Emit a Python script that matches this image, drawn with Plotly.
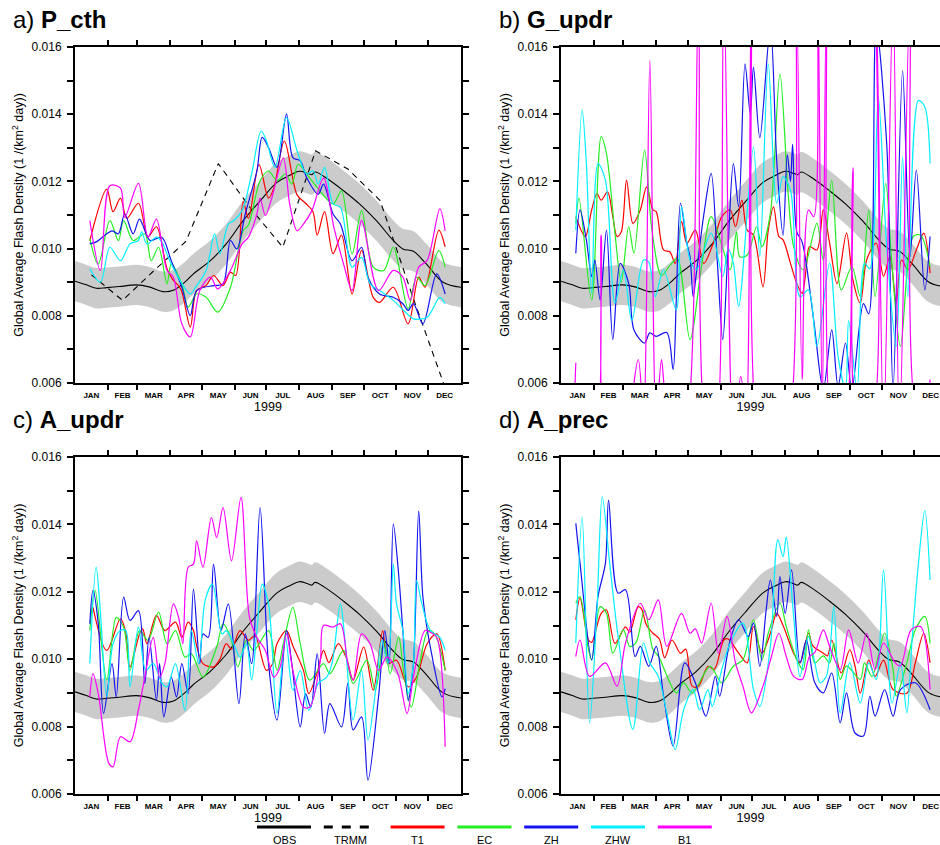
import numpy as np
import plotly.graph_objects as go

# ---------------- data (values in units of 1e-3 flashes km^-2 day^-1) ----------------
SCALE = 1e-3
MONTHS = ["JAN", "FEB", "MAR", "APR", "MAY", "JUN", "JUL", "AUG", "SEP", "OCT", "NOV", "DEC"]
MONTH_START = [0, 31, 59, 90, 120, 151, 181, 212, 243, 273, 304, 334, 365]
MONTH_MID = [15.5, 45, 74.5, 105, 135.5, 166, 196.5, 227.5, 258, 288.5, 319, 349.5]
YEAR = "1999"
Y_TICKS = [0.006, 0.008, 0.010, 0.012, 0.014, 0.016]
Y_TICK_TEXT = ["0.006", "0.008", "0.010", "0.012", "0.014", "0.016"]
MODELS = ["T1", "EC", "ZH", "ZHW", "B1"]
COLORS = {"T1": "#ff0000", "EC": "#22ee22", "ZH": "#1414f0", "ZHW": "#00f0ff", "B1": "#ff00ff"}

OBS = [(0, 9.03), (10, 8.93), (20, 8.82), (30, 8.84), (42, 8.87), (58, 8.92), (70, 8.86), (83, 8.72),
       (93, 8.76), (103, 8.98), (112, 9.25), (128, 9.64), (143, 10.14), (159, 10.83), (175, 11.42),
       (191, 11.97), (203, 12.18), (212, 12.3), (220, 12.24), (224, 12.2), (227, 12.28), (240, 12.05),
       (254, 11.72), (269, 11.33), (285, 10.83), (301, 10.24), (310, 9.99), (320, 9.92), (332, 9.55),
       (348, 9.0), (365, 8.85)]
OBS_UNCERT = 0.6
TRMM = [9.22, 8.46, 9.34, 10.22, 12.53, 11.2, 10.04, 12.91, 12.37, 11.43, 8.6, 5.9]

# ---- panel a) P_cth ----
A_T1 = [(14, 10.24), (30, 11.77), (36, 11.1), (43, 11.5), (49, 10.9), (60, 11.35), (69, 10.35), (77, 10.65),
        (87, 9.4), (92, 9.1), (100, 8.8), (109, 7.66), (115, 8.75), (124, 8.9), (131, 9.2), (140, 8.9),
        (147, 9.3), (152, 9.2), (159, 11.4), (164, 10.9), (174, 12.5), (183, 11.5), (188, 11.8), (198, 13.2),
        (210, 11.6), (218, 11.35), (225, 11.1), (229, 10.4), (236, 11.1), (244, 9.85), (252, 10.4),
        (262, 8.65), (271, 9.95), (282, 8.55), (288, 8.4), (301, 8.85), (315, 7.76), (325, 9.15),
        (331, 8.85), (344, 10.55), (350, 10.05)]
A_EC = [(14, 10.29), (22, 9.54), (33, 10.83), (41, 10.24), (46, 10.83), (55, 10.24), (66, 10.44), (72, 9.64),
        (79, 10.04), (87, 8.95), (91, 9.54), (101, 8.95), (107, 8.26), (115, 8.65), (124, 8.55), (135, 8.11),
        (147, 8.85), (159, 10.53), (164, 10.7), (175, 12.02), (183, 12.31), (191, 12.02), (199, 12.22),
        (205, 11.92), (211, 12.51), (219, 12.22), (229, 11.82), (244, 11.33), (252, 11.72), (262, 9.84),
        (271, 11.13), (282, 9.45), (292, 9.35), (301, 10.04), (315, 8.21), (323, 9.15), (331, 8.9),
        (344, 9.94), (350, 9.45)]
A_ZH = [(14, 10.14), (20, 10.2), (35, 10.53), (41, 10.44), (47, 11.03), (55, 10.44), (61, 10.88), (71, 10.24),
        (82, 10.34), (91, 9.64), (101, 8.85), (109, 8.01), (115, 8.75), (131, 8.9), (140, 8.95), (147, 10.24),
        (153, 9.99), (161, 11.03), (172, 12.31), (177, 13.31), (183, 13.01), (191, 12.42), (200, 14.0),
        (206, 12.71), (213, 12.61), (219, 12.12), (230, 11.62), (235, 11.92), (244, 11.03), (251, 10.73),
        (262, 9.64), (271, 10.04), (277, 9.15), (288, 8.65), (301, 8.55), (310, 8.36), (315, 8.16),
        (320, 8.36), (329, 7.76), (342, 9.25), (350, 8.65)]
A_ZHW = [(14, 9.4), (24, 9.0), (33, 10.04), (43, 9.64), (52, 10.14), (60, 10.24), (63, 10.5), (68, 10.14),
         (77, 10.34), (82, 10.2), (91, 9.54), (109, 8.65), (114, 8.85), (124, 9.35), (132, 10.44), (137, 9.84),
         (145, 10.73), (150, 10.83), (158, 11.13), (167, 12.22), (176, 13.5), (181, 13.21), (189, 12.42),
         (200, 13.9), (210, 12.91), (219, 12.22), (225, 12.31), (230, 11.92), (236, 12.42), (244, 11.33),
         (251, 11.23), (262, 9.45), (271, 9.74), (279, 8.95), (288, 8.75), (301, 8.46), (314, 8.06),
         (320, 7.91), (333, 7.96), (345, 8.55), (350, 8.36)]
A_B1 = [(14, 10.83), (24, 9.35), (33, 11.87), (43, 11.8), (47, 10.93), (60, 11.94), (69, 10.34), (77, 10.88),
        (87, 9.35), (93, 9.15), (101, 7.76), (109, 7.37), (118, 8.75), (128, 9.15), (135, 8.8), (147, 9.35),
        (158, 10.14), (164, 10.34), (172, 11.03), (175, 11.5), (180, 10.98), (186, 11.5), (197, 12.7),
        (203, 11.33), (210, 10.53), (216, 10.73), (224, 11.13), (235, 12.1), (245, 10.6), (254, 9.54),
        (262, 8.75), (271, 10.83), (287, 8.75), (301, 9.35), (310, 9.15), (317, 8.46), (325, 9.45),
        (333, 9.65), (345, 11.18), (350, 10.53)]

# ---- panel b) G_updr ----
B_T1 = [(14, 10.95), (23, 10.36), (29, 11.15), (34, 11.64), (38, 11.44), (44, 11.69), (49, 10.95), (53, 10.36),
        (57, 10.5), (62, 12.04), (68, 10.75), (75, 11.15), (81, 11.84), (87, 11.15), (90, 11.1), (97, 9.96),
        (103, 9.9), (108, 9.56), (114, 10.8), (119, 10.16), (127, 10.55), (135, 9.56), (144, 10.16),
        (152, 10.95), (160, 11.15), (165, 10.65), (171, 11.44), (176, 10.55), (182, 10.4), (191, 8.86),
        (196, 10.55), (201, 11.24), (206, 10.36), (210, 10.26), (217, 9.56), (223, 8.96), (228, 8.67),
        (232, 9.46), (235, 10.06), (242, 9.96), (248, 11.15), (254, 10.16), (261, 8.96), (270, 10.46),
        (276, 9.07), (283, 8.38), (289, 9.66), (298, 10.16), (305, 9.17), (311, 9.76), (317, 8.38),
        (322, 9.66), (328, 9.37), (336, 9.96), (343, 10.46), (349, 9.27)]
B_EC = [(14, 10.75), (17, 11.5), (29, 8.47), (38, 13.33), (43, 12.83), (51, 10.46), (57, 9.0), (64, 10.65),
        (69, 9.86), (79, 12.93), (86, 10.55), (95, 9.2), (103, 9.5), (110, 9.7), (122, 7.29), (133, 9.5),
        (142, 10.95), (153, 10.0), (160, 9.37), (166, 10.5), (169, 9.76), (176, 9.8), (185, 10.65),
        (190, 10.06), (198, 11.05), (207, 15.2), (215, 11.54), (220, 10.06), (229, 9.37), (242, 10.75),
        (248, 9.66), (256, 12.04), (265, 8.77), (275, 9.46), (283, 8.57), (291, 11.15), (297, 8.57),
        (307, 11.94), (313, 9.5), (321, 7.09), (333, 10.36), (340, 10.4), (349, 9.46)]
B_ZH = [(14, 9.86), (18, 11.15), (24, 10.26), (29, 9.17), (32, 9.66), (37, 8.47), (43, 10.55), (49, 7.29),
        (56, 9.56), (64, 8.97), (69, 7.58), (79, 7.19), (84, 7.49), (90, 7.39), (100, 7.5), (106, 6.4),
        (109, 8.47), (113, 11.35), (119, 10.16), (122, 9.76), (125, 8.57), (128, 9.27), (135, 11.0),
        (142, 12.24), (148, 9.5), (153, 7.29), (158, 10.06), (163, 12.53), (168, 11.25), (174, 15.5),
        (179, 14.0), (182, 15.4), (188, 13.3), (198, 16.6), (204, 12.6), (210, 10.4), (214, 12.8),
        (217, 12.0), (219, 13.1), (223, 10.5), (228, 10.2), (239, 7.86), (248, 5.8), (256, 7.58),
        (262, 5.9), (269, 7.19), (275, 5.8), (286, 8.36), (291, 8.06), (298, 16.6), (308, 13.12),
        (314, 5.8), (323, 15.3), (330, 9.76), (336, 12.34), (344, 8.77), (349, 10.36)]
B_ZHW = [(14, 10.55), (20, 14.12), (24, 12.53), (29, 8.67), (35, 12.53), (42, 12.04), (51, 8.38), (59, 9.37),
         (67, 7.86), (78, 9.66), (83, 9.6), (89, 8.57), (97, 9.37), (109, 8.18), (114, 11.25), (122, 9.66),
         (128, 9.37), (142, 10.46), (153, 9.17), (158, 10.0), (163, 9.56), (168, 8.28), (182, 13.02),
         (188, 9.76), (196, 15.5), (204, 11.35), (210, 12.14), (217, 11.74), (226, 8.57), (234, 8.77),
         (242, 7.09), (254, 9.56), (262, 6.79), (269, 5.8), (272, 7.86), (280, 5.8), (287, 9.56),
         (292, 9.4), (300, 14.51), (308, 10.06), (317, 7.09), (323, 12.73), (328, 8.57), (338, 14.41),
         (344, 14.22), (349, 12.53)]
B_B1 = [(14, 6.6), (18, 4.0), (30, 4.0), (38, 10.4), (44, 4.0), (60, 4.5), (73, 6.7), (78, 5.0), (84, 15.6),
        (90, 5.0), (95, 6.7), (98, 5.8), (110, 4.0), (120, 5.0), (130, 17.5), (137, 4.5), (145, 4.0),
        (154, 17.5), (163, 4.5), (170, 6.2), (175, 5.0), (180, 17.5), (188, 4.0), (200, 3.5), (215, 4.5),
        (223, 17.0), (228, 6.1), (234, 11.15), (239, 10.95), (243, 17.5), (247, 5.0), (251, 17.5),
        (258, 4.0), (268, 4.5), (276, 12.4), (282, 4.5), (292, 4.5), (298, 17.5), (305, 4.5), (314, 17.5),
        (320, 4.5), (330, 17.5), (337, 5.0), (343, 5.0), (349, 6.1)]

# ---- panel c) A_updr ----
C_T1 = [(17, 11.54), (30, 10.26), (43, 11.2), (48, 10.8), (52, 9.77), (61, 10.75), (64, 10.9), (68, 10.46),
        (77, 11.3), (85, 10.85), (95, 11.1), (101, 10.65), (107, 11.1), (112, 10.85), (115, 10.4), (121, 9.87),
        (131, 9.77), (137, 10.0), (143, 10.46), (148, 10.3), (156, 10.85), (164, 10.56), (170, 10.7),
        (181, 9.67), (187, 9.87), (191, 10.46), (200, 10.85), (206, 10.4), (216, 9.67), (221, 8.98),
        (229, 9.6), (235, 10.26), (240, 9.9), (249, 10.46), (257, 10.0), (263, 9.38), (273, 10.36),
        (282, 9.08), (291, 10.85), (296, 9.87), (304, 9.97), (315, 9.18), (323, 9.47), (333, 10.46),
        (342, 10.75), (350, 9.67)]
C_EC = [(14, 10.85), (19, 12.04), (30, 9.38), (39, 11.24), (46, 10.95), (52, 9.67), (61, 10.85), (69, 10.56),
        (79, 11.4), (87, 10.46), (95, 10.85), (104, 10.06), (110, 10.16), (121, 9.47), (134, 10.36),
        (140, 11.05), (147, 10.66), (154, 9.77), (162, 10.56), (169, 10.26), (183, 10.85), (191, 9.67),
        (197, 10.46), (206, 11.54), (213, 10.46), (222, 9.38), (235, 9.87), (241, 9.57), (254, 10.26),
        (263, 9.28), (276, 9.97), (284, 9.08), (292, 10.56), (298, 9.57), (306, 10.66), (311, 9.57),
        (318, 8.58), (326, 9.87), (334, 10.85), (340, 10.75), (350, 9.67)]
C_ZH = [(14, 11.05), (17, 12.04), (22, 11.05), (27, 8.39), (35, 9.87), (39, 8.88), (46, 11.84), (52, 11.15),
        (60, 11.44), (66, 9.28), (70, 10.65), (77, 8.78), (80, 9.87), (84, 8.29), (91, 9.47), (96, 8.88),
        (101, 9.87), (107, 8.98), (112, 12.08), (118, 9.87), (121, 10.75), (126, 10.65), (131, 12.82),
        (138, 10.85), (145, 11.64), (155, 8.68), (161, 10.75), (167, 9.87), (175, 14.5), (183, 9.87),
        (191, 8.19), (200, 10.85), (205, 9.87), (213, 7.99), (218, 8.98), (223, 8.58), (229, 10.16),
        (236, 7.8), (241, 8.68), (252, 7.99), (258, 9.28), (263, 7.9), (271, 8.29), (277, 6.41), (287, 8.88),
        (293, 10.85), (297, 9.87), (301, 14.01), (306, 12.53), (310, 10.85), (315, 8.78), (320, 9.87),
        (325, 14.4), (329, 11.84), (336, 10.36), (347, 8.88), (350, 9.13)]
C_ZHW = [(14, 9.87), (20, 12.73), (24, 11.4), (30, 8.88), (36, 10.46), (43, 10.85), (48, 10.85), (52, 9.18),
         (60, 10.95), (67, 9.67), (74, 9.87), (82, 9.3), (87, 9.18), (95, 9.87), (104, 8.48), (110, 10.85),
         (117, 9.87), (123, 11.74), (130, 12.23), (139, 10.75), (143, 10.85), (150, 10.46), (156, 10.06),
         (162, 10.46), (167, 9.38), (172, 10.85), (177, 12.23), (183, 11.64), (191, 8.39), (199, 10.65),
         (206, 9.08), (213, 9.67), (221, 8.48), (230, 9.28), (238, 9.47), (243, 9.87), (251, 11.64),
         (255, 10.65), (263, 8.19), (271, 9.67), (277, 7.6), (285, 9.28), (290, 10.56), (296, 9.87),
         (301, 12.82), (304, 11.64), (310, 10.85), (315, 8.98), (320, 9.87), (323, 12.33), (328, 11.64),
         (336, 10.85), (345, 10.65), (350, 10.26)]
C_B1 = [(14, 8.88), (17, 9.57), (22, 8.98), (32, 6.91), (36, 6.81), (43, 7.7), (52, 7.55), (60, 8.5),
        (66, 9.47), (74, 10.65), (80, 9.47), (85, 9.87), (93, 11.64), (98, 11.24), (102, 10.46), (107, 12.73),
        (112, 12.82), (115, 13.51), (121, 12.73), (129, 14.2), (134, 13.61), (140, 14.5), (148, 12.92),
        (157, 14.8), (165, 11.24), (172, 10.65), (180, 10.26), (188, 9.47), (194, 9.77), (200, 10.75),
        (206, 9.67), (216, 8.58), (222, 8.58), (232, 9.97), (235, 11.0), (244, 10.95), (251, 11.05),
        (258, 9.87), (263, 9.38), (271, 10.75), (279, 10.46), (287, 9.67), (295, 10.06), (305, 9.6),
        (314, 8.39), (320, 9.47), (331, 10.85), (336, 10.8), (342, 10.65), (350, 7.4)]

# ---- panel d) A_prec ----
D_T1 = [(14, 11.17), (18, 11.81), (26, 10.57), (29, 10.5), (38, 11.36), (43, 11.46), (51, 10.47), (61, 10.96),
        (65, 10.8), (73, 11.56), (76, 11.5), (81, 11.0), (87, 10.77), (93, 10.6), (98, 10.04), (105, 10.57),
        (113, 10.18), (118, 10.3), (124, 9.2), (130, 9.2), (139, 9.79), (145, 9.7), (154, 10.57), (158, 10.6),
        (168, 10.18), (176, 9.89), (182, 10.97), (190, 10.18), (198, 10.77), (204, 11.36), (210, 11.0),
        (220, 10.18), (226, 9.89), (234, 10.77), (238, 10.4), (248, 10.18), (252, 10.1), (256, 10.57),
        (265, 9.59), (273, 10.28), (278, 9.8), (283, 8.99), (291, 9.97), (297, 9.49), (305, 9.97),
        (314, 9.1), (327, 8.99), (335, 9.89), (343, 10.77), (349, 9.89)]
D_EC = [(14, 11.66), (18, 11.86), (26, 10.28), (29, 9.98), (37, 11.56), (43, 11.36), (49, 10.18), (59, 10.87),
        (65, 10.38), (71, 10.5), (79, 11.46), (87, 10.28), (92, 10.1), (109, 9.0), (116, 9.3), (124, 9.0),
        (141, 9.79), (152, 9.3), (163, 9.79), (172, 9.98), (182, 11.17), (190, 9.98), (196, 10.77),
        (207, 11.66), (213, 10.97), (223, 9.98), (229, 9.69), (234, 10.87), (240, 9.89), (248, 10.1),
        (254, 9.89), (258, 10.47), (264, 9.4), (270, 9.8), (283, 9.4), (287, 9.89), (294, 9.49),
        (306, 10.77), (314, 9.69), (317, 8.9), (327, 9.89), (335, 10.87), (344, 11.27), (349, 10.47)]
D_ZH = [(14, 14.03), (18, 12.85), (29, 9.98), (35, 11.86), (42, 12.85), (45, 14.72), (54, 11.96), (61, 12.06),
        (70, 10.08), (75, 10.38), (83, 9.79), (90, 10.38), (97, 8.9), (106, 7.42), (117, 9.89), (127, 9.3),
        (137, 8.31), (146, 9.49), (150, 8.9), (160, 10.57), (168, 11.17), (177, 10.67), (182, 11.07),
        (188, 9.79), (194, 11.46), (198, 12.35), (204, 11.27), (207, 12.45), (212, 11.36), (218, 12.65),
        (226, 9.89), (232, 10.57), (240, 9.3), (248, 9.0), (256, 9.59), (264, 8.11), (270, 9.0), (278, 7.81),
        (286, 7.72), (292, 8.9), (297, 8.31), (306, 9.1), (314, 8.31), (321, 9.1), (335, 9.3), (349, 8.5)]
D_ZHW = [(14, 10.48), (20, 14.22), (27, 8.11), (34, 11.46), (39, 14.82), (46, 12.85), (54, 10.67), (68, 7.92),
         (78, 10.48), (84, 9.89), (92, 9.49), (100, 8.41), (108, 7.32), (116, 8.5), (125, 9.1), (131, 8.5),
         (139, 9.1), (143, 8.6), (152, 9.69), (160, 10.48), (172, 11.07), (182, 9.1), (188, 8.6),
         (198, 10.38), (205, 13.54), (210, 13.04), (213, 13.63), (220, 11.27), (226, 9.49), (234, 10.67),
         (240, 9.9), (245, 9.3), (251, 9.5), (258, 11.56), (264, 8.41), (273, 9.89), (283, 8.7), (291, 9.89),
         (298, 9.4), (305, 12.65), (313, 8.7), (321, 9.89), (327, 8.41), (332, 10.57), (338, 12.85),
         (344, 14.42), (349, 12.35)]
D_B1 = [(14, 10.08), (18, 10.57), (27, 9.49), (42, 9.89), (53, 9.2), (61, 10.48), (75, 11.66), (83, 11.17),
        (92, 11.76), (100, 10.38), (114, 11.36), (122, 10.77), (127, 10.9), (133, 10.48), (142, 11.66),
        (149, 10.18), (157, 11.27), (165, 9.89), (172, 9.2), (180, 8.41), (191, 9.2), (199, 10.08),
        (206, 10.77), (213, 10.08), (220, 9.49), (228, 9.4), (235, 10.08), (240, 10.2), (248, 10.87),
        (254, 10.38), (264, 9.69), (272, 10.87), (281, 9.89), (289, 10.77), (297, 9.69), (305, 10.48),
        (316, 9.89), (321, 9.8), (331, 10.87), (340, 10.97), (349, 9.1)]

PANELS = [
    ("a)", "P_cth", {"T1": A_T1, "EC": A_EC, "ZH": A_ZH, "ZHW": A_ZHW, "B1": A_B1}, True),
    ("b)", "G_updr", {"T1": B_T1, "EC": B_EC, "ZH": B_ZH, "ZHW": B_ZHW, "B1": B_B1}, False),
    ("c)", "A_updr", {"T1": C_T1, "EC": C_EC, "ZH": C_ZH, "ZHW": C_ZHW, "B1": C_B1}, False),
    ("d)", "A_prec", {"T1": D_T1, "EC": D_EC, "ZH": D_ZH, "ZHW": D_ZHW, "B1": D_B1}, False),
]

# ---------------- layout geometry (pixels) ----------------
W, H = 940, 845
FONT = "Liberation Sans, Arial, Helvetica, sans-serif"
PX_PER_DAY = 386 / 365.0
# (left, right, top, bottom) in px
BOXES = [(75, 461, 47, 383), (561, 940, 47, 383), (75, 461, 457, 794), (561, 940, 457, 794)]
TITLE_POS = [(11, 19), (497, 19), (11, 419), (497, 419)]


def px_x(v):
    return v / W


def px_y(v):
    return 1 - v / H


def split(pairs):
    return [p[0] for p in pairs], [p[1] * SCALE for p in pairs]


fig = go.Figure()
obs_d, obs_v = split(OBS)
obs_v = np.array(obs_v)
unc = OBS_UNCERT * SCALE

for i, (lab, name, series, has_trmm) in enumerate(PANELS):
    xa = "x" if i == 0 else f"x{i+1}"
    ya = "y" if i == 0 else f"y{i+1}"
    common = dict(xaxis=xa, yaxis=ya, showlegend=False, hoverinfo="skip", mode="lines")
    fig.add_trace(go.Scatter(x=obs_d, y=obs_v - unc, line=dict(width=0, shape="spline"), **common))
    fig.add_trace(go.Scatter(x=obs_d, y=obs_v + unc, line=dict(width=0, shape="spline"),
                             fill="tonexty", fillcolor="rgb(203,203,203)", **common))
    fig.add_trace(go.Scatter(x=obs_d, y=obs_v, line=dict(color="black", width=1.1, shape="spline"), **common))
    if has_trmm:
        fig.add_trace(go.Scatter(x=MONTH_MID, y=[v * SCALE for v in TRMM],
                                 line=dict(color="black", width=1.1, dash="6px,5px"), **common))
    for m in MODELS:
        d, v = split(series[m])
        fig.add_trace(go.Scatter(x=d, y=v, line=dict(color=COLORS[m], width=1.2, shape="spline",
                                                     smoothing=0.9), **common))

layout_axes = {}
for i, (l, r, t, b) in enumerate(BOXES):
    sx = "xaxis" if i == 0 else f"xaxis{i+1}"
    sy = "yaxis" if i == 0 else f"yaxis{i+1}"
    xa = "x" if i == 0 else f"x{i+1}"
    ya = "y" if i == 0 else f"y{i+1}"
    xmax = (r - l) / PX_PER_DAY
    layout_axes[sx] = dict(
        domain=[px_x(l), px_x(r)], range=[0, xmax], anchor=ya, automargin=False,
        tickmode="array", tickvals=MONTH_MID, ticktext=MONTHS,
        ticks="outside", ticklen=0, ticklabelstandoff=3,
        tickfont=dict(family=FONT, size=8, color="black", weight="bold"),
        minor=dict(tickmode="array", tickvals=MONTH_START[1:-1], ticks="outside",
                   ticklen=5, tickwidth=2, tickcolor="black"),
        showline=True, linewidth=2, linecolor="black", mirror="ticks",
        showgrid=False, zeroline=False,
        title=dict(text=YEAR, font=dict(family=FONT, size=12.5, color="black"), standoff=1),
    )
    layout_axes[sy] = dict(
        domain=[px_y(b), px_y(t)], range=[0.006, 0.016], anchor=xa, automargin=False,
        tickmode="array", tickvals=Y_TICKS, ticktext=Y_TICK_TEXT,
        ticks="outside", ticklen=6, tickwidth=2, tickcolor="black", ticklabelstandoff=3,
        tickfont=dict(family=FONT, size=12, color="black"),
        minor=dict(dtick=0.001, tick0=0.006, ticks="outside", ticklen=6, tickwidth=2, tickcolor="black"),
        showline=True, linewidth=2, linecolor="black",
        mirror="ticks" if r < 940 else False,
        showgrid=False, zeroline=False,
        title=dict(text="Global Average Flash Density (1 /(km<sup>2</sup> day))",
                   font=dict(family=FONT, size=12.5, color="black"), standoff=5),
    )

annotations = []
for (lab, name, _, _), (tx, ty) in zip(PANELS, TITLE_POS):
    annotations.append(dict(text=f"{lab} <b>{name}</b>", x=px_x(tx), y=px_y(ty), xref="paper", yref="paper",
                            xanchor="left", yanchor="middle", showarrow=False,
                            font=dict(family=FONT, size=24, color="black")))

# legend drawn under the panels
LEGEND_ITEMS = ["OBS", "TRMM"] + MODELS
LEG_COLORS = ["black", "black"] + [COLORS[m] for m in MODELS]
shapes = []
leg_x0, leg_step, leg_len, leg_line_y, leg_text_y = 257, 66.8, 54, 827, 840
for k, (nm, col) in enumerate(zip(LEGEND_ITEMS, LEG_COLORS)):
    x0 = leg_x0 + k * leg_step
    shapes.append(dict(type="line", xref="paper", yref="paper", x0=px_x(x0), x1=px_x(x0 + leg_len),
                       y0=px_y(leg_line_y), y1=px_y(leg_line_y),
                       line=dict(color=col, width=3, dash="dash" if nm == "TRMM" else "solid")))
    annotations.append(dict(text=nm, x=px_x(x0 + leg_len / 2), y=px_y(leg_text_y), xref="paper", yref="paper",
                            xanchor="center", yanchor="middle", showarrow=False,
                            font=dict(family=FONT, size=11, color="black")))

fig.update_layout(
    template="none",
    width=W, height=H, margin=dict(l=0, r=0, t=0, b=0, autoexpand=False),
    paper_bgcolor="white", plot_bgcolor="white",
    font=dict(family=FONT, color="black"),
    annotations=annotations, shapes=shapes, showlegend=False,
    **layout_axes,
)

fig.write_html("out.html", config={"displayModeBar": False},
               post_script="document.body.style.margin='0px';document.body.style.padding='0px';"
                           "document.body.style.overflow='hidden';")
